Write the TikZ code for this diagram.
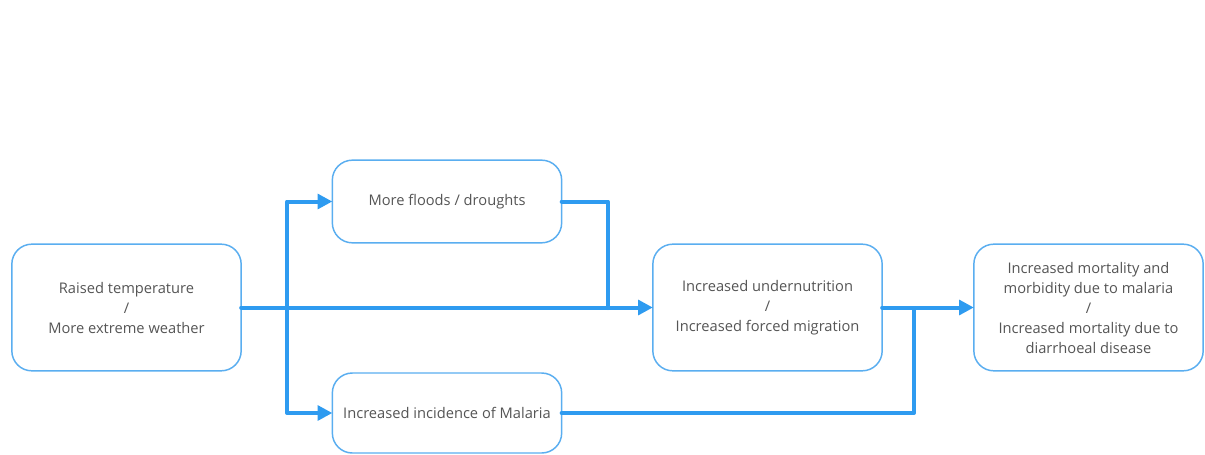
\documentclass[tikz,border=0pt]{standalone}
\usepackage{fontspec}
\setmainfont{Open Sans}
\usetikzlibrary{arrows.meta}
\definecolor{boxline}{HTML}{5AAEF0}
\definecolor{flow}{HTML}{2E9BF0}
\definecolor{txt}{HTML}{555555}
\begin{document}
\begin{tikzpicture}[x=0.75pt,y=-0.75pt,
  stage/.style={draw=boxline, line width=1.1pt, rounded corners=15pt, fill=white,
    outer sep=0pt, inner sep=0pt, align=center, text=txt,
    font=\fontsize{11pt}{15pt}\selectfont},
  flowline/.style={draw=flow, line width=3pt, line cap=round, line join=round},
  tip/.style={-{Triangle[length=11pt,width=11pt]}}]
\useasboundingbox[fill=white] (0,0) rectangle (1205,454);

% stages
\node[stage, minimum width=172pt, minimum height=95pt] (A) at (126.5,307.5)
  {Raised temperature\\/\\More extreme weather};
\node[stage, minimum width=172pt, minimum height=62pt] (B) at (447,201.5)
  {More floods / droughts};
\node[stage, minimum width=172pt, minimum height=60pt] (C) at (447,413)
  {Increased incidence of Malaria};
\node[stage, minimum width=172pt, minimum height=95pt] (D) at (767.5,307.5)
  {Increased undernutrition\\/\\Increased forced migration};
\node[stage, minimum width=172pt, minimum height=95pt] (E) at (1088.5,307.5)
  {Increased mortality and\\morbidity due to malaria\\/\\Increased mortality due to\\diarrhoeal disease};

% junction points on the main line
\coordinate (j1) at (287,308);
\coordinate (m1) at (608,308);
\coordinate (m2) at (914,308);

% connectors
\draw[flowline, tip] (A.east) -- (D.west);
\draw[flowline, tip] (j1) |- (B.west);
\draw[flowline, tip] (j1) |- (C.west);
\draw[flowline] (B.east) -| (m1);
\draw[flowline, tip] (D.east) -- (E.west);
\draw[flowline] (C.east) -| (m2);
\end{tikzpicture}
\end{document}
